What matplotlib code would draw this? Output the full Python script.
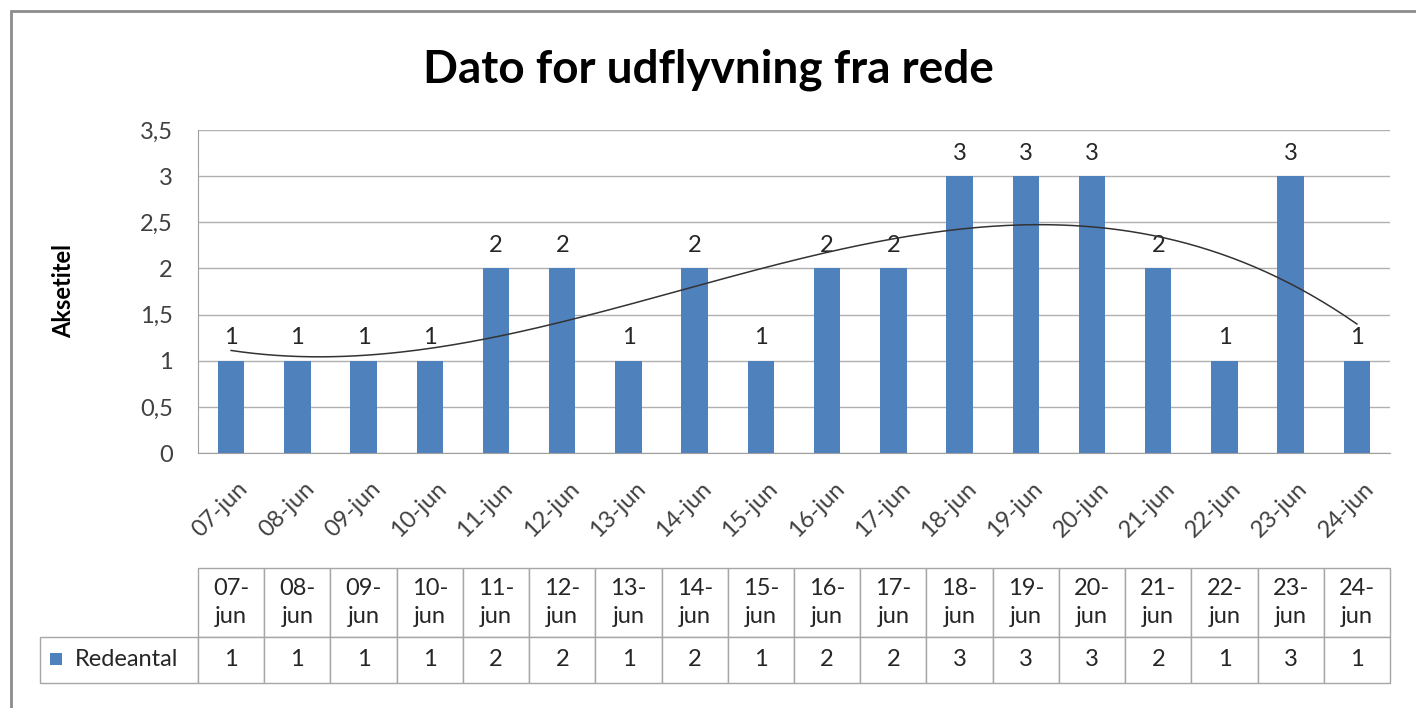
import matplotlib.pyplot as plt
import matplotlib.transforms as mtransforms
import numpy as np
from matplotlib.patches import Rectangle

plt.rcParams['font.family'] = ['Lato', 'DejaVu Sans']

dates = ["07-jun", "08-jun", "09-jun", "10-jun", "11-jun", "12-jun", "13-jun", "14-jun", "15-jun",
         "16-jun", "17-jun", "18-jun", "19-jun", "20-jun", "21-jun", "22-jun", "23-jun", "24-jun"]
redeantal = [1, 1, 1, 1, 2, 2, 1, 2, 1, 2, 2, 3, 3, 3, 2, 1, 3, 1]
series_name = "Redeantal"
yticks = [0, 0.5, 1, 1.5, 2, 2.5, 3, 3.5]

W, H = 1416, 708
fig = plt.figure(figsize=(W / 100, H / 100), dpi=100)

# outer frame (chart area border, cropped at right/bottom)
fig.add_artist(Rectangle((11 / W, -0.05), 1.1, 1 - 11 / H + 0.05, transform=fig.transFigure,
                         fill=False, edgecolor="#8c8c8c", linewidth=2))

ax = fig.add_axes([198 / W, 1 - 453 / H, (1390 - 198) / W, (453 - 130) / H])
x = np.arange(len(dates))
bars = ax.bar(x, redeantal, width=0.4, color="#4F81BD", zorder=2)
ax.bar_label(bars, labels=[str(v) for v in redeantal], padding=9, fontsize=17, color="#262626")

# polynomial trendline (order 3)
coef = np.polyfit(x + 1, redeantal, 3)
xs = np.linspace(0, len(dates) - 1, 200)
ax.plot(xs, np.polyval(coef, xs + 1), color="#333333", linewidth=1.1, zorder=3)

ax.set_xlim(-0.5, len(dates) - 0.5)
ax.set_ylim(0, 3.5)
ax.set_yticks(yticks)
ax.set_yticklabels([f"{t:g}".replace(".", ",") for t in yticks], fontsize=17, color="#404040")
ax.yaxis.grid(True, color="#b0b0b0", linewidth=1)
ax.set_axisbelow(True)
for s in ["top", "right"]:
    ax.spines[s].set_visible(False)
for s in ["left", "bottom"]:
    ax.spines[s].set_color("#a0a0a0")
ax.tick_params(axis="y", length=0, pad=18)
ax.tick_params(axis="x", length=0, pad=18)
ax.set_xticks(x)
ax.set_xticklabels(dates, rotation=45, ha="right", rotation_mode="anchor", fontsize=17, color="#404040")
shift = mtransforms.ScaledTranslation(6 / 100, 0, fig.dpi_scale_trans)
for lbl in ax.get_xticklabels():
    lbl.set_transform(lbl.get_transform() + shift)
ax.yaxis.set_label_coords(-(198 - 64) / 1192, 0.5)
ax.set_ylabel("Aksetitel", fontsize=17, fontweight="bold", va="center")

fig.text(0.5, 1 - 70 / H, "Dato for udflyvning fra rede", ha="center", va="center",
         fontsize=33, fontweight="bold", color="#000000")

# data table
col_labels = [d.replace("-", "-\n") for d in dates]
rl_w = 158 / 1192
cw = 1 / len(dates)
table = ax.table(cellText=[[str(v) for v in redeantal]], colLabels=col_labels,
                 rowLabels=[series_name], colWidths=[cw] * len(dates),
                 cellLoc="center", rowLoc="left",
                 bbox=[0, (453 - 683) / 323, 1, (683 - 568) / 323])
table._autoColumns = []
table.auto_set_font_size(False)
for (r, c), cell in table.get_celld().items():
    cell.set_edgecolor("#a6a6a6")
    cell.set_linewidth(1)
    cell.get_text().set_fontsize(17)
    cell.get_text().set_color("#262626")
    if c == -1:
        cell.set_width(rl_w)
        cell.PAD = 0.22
    if r == 0:
        cell.set_height(3)
        cell.get_text().set_linespacing(1.45)
    else:
        cell.set_height(2)

fig.add_artist(Rectangle((50 / W, 1 - 665 / H), 12 / W, 12 / H, transform=fig.transFigure,
                         facecolor="#4F81BD", edgecolor="none"))

fig.savefig("out.png", dpi=100)
